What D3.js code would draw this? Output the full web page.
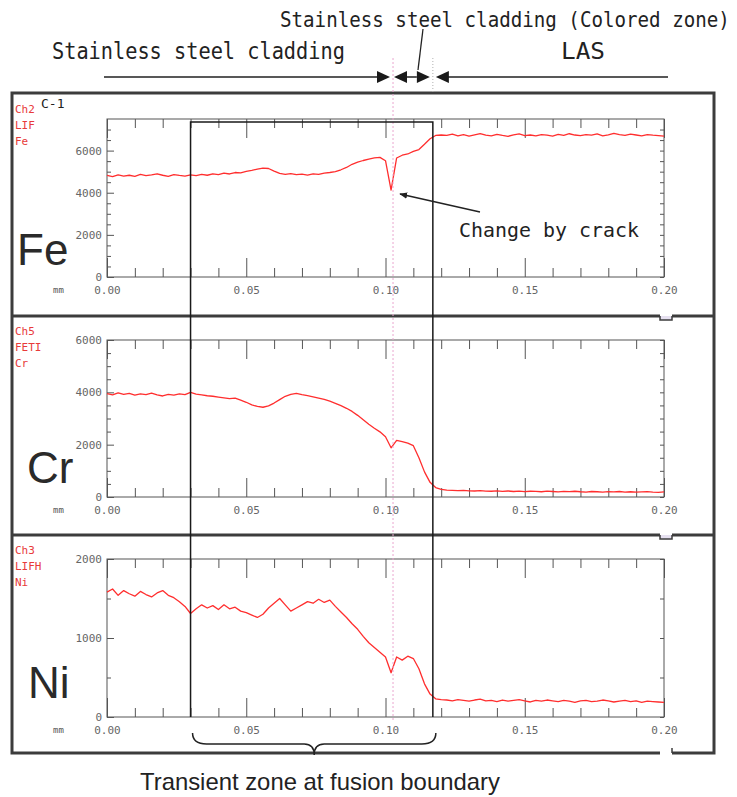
<!DOCTYPE html>
<html>
<head>
<meta charset="utf-8">
<script src="https://cdn.jsdelivr.net/npm/d3@7"></script>
<style>
body { margin: 0; background: #fff; }
.tick text { font-family: "DejaVu Sans Mono", monospace; font-size: 11px; fill: #666; }
.tick line { stroke: #555; }
</style>
</head>
<body>
<div id="chart"></div>
<script>
// sampling step along the scan (mm)
var step = 0.002;

var feValues = [
	4820, 4760, 4850, 4790, 4830, 4780, 4870, 4810, 4850, 4900,
	4830, 4780, 4860, 4820, 4790, 4850, 4810, 4870, 4830, 4900,
	4860, 4930, 4890, 4960, 4940, 5010, 5060, 5120, 5170, 5150,
	5030, 4920, 4870, 4910, 4860, 4880, 4840, 4900, 4870, 4930,
	4960, 5000, 5090, 5200, 5350, 5450, 5530, 5600, 5650, 5680,
	5520, 4120, 5650, 5780, 5840, 5960, 6050, 6300, 6560, 6720,
	6740, 6720, 6780, 6700, 6760, 6690, 6750, 6810, 6730, 6700,
	6770, 6720, 6680, 6750, 6790, 6710, 6740, 6700, 6760, 6730,
	6690, 6770, 6720, 6800, 6740, 6710, 6760, 6730, 6790, 6700,
	6750, 6820, 6760, 6720, 6780, 6740, 6700, 6760, 6730, 6710,
	6690
];

var crValues = [
	3950, 3900, 3980, 3920, 3960, 3890, 3940, 3910, 3970, 3900,
	3860, 3920, 3890, 3940, 3910, 4000, 3930, 3900, 3870, 3850,
	3820, 3790, 3760, 3780, 3700, 3620, 3520, 3460, 3430, 3480,
	3590, 3720, 3850, 3920, 3960, 3910, 3870, 3830, 3780, 3730,
	3660, 3580, 3490, 3390, 3270, 3120, 2950, 2780, 2630, 2490,
	2300, 1880, 2160, 2120, 2060, 1960, 1500, 960, 560, 360,
	290, 260, 250, 240, 255, 235, 230, 245, 225, 220,
	235, 215, 230, 210, 225, 205, 220, 215, 200, 225,
	210, 195, 215, 205, 220, 200, 190, 210, 200, 185,
	205, 195, 210, 190, 200, 185, 195, 205, 190, 180,
	195
];

var niValues = [
	1580, 1620, 1540, 1600, 1560, 1530, 1590, 1550, 1520, 1570,
	1600, 1540, 1510, 1460, 1400, 1310, 1370, 1420, 1380, 1410,
	1360, 1420, 1370, 1390, 1340, 1320, 1290, 1260, 1300, 1380,
	1440, 1500, 1420, 1340, 1380, 1420, 1460, 1440, 1490, 1450,
	1480, 1400, 1330, 1260, 1180, 1110, 1020, 940, 880, 820,
	760, 560, 760, 720, 770, 740, 610, 420, 290, 230,
	220, 215, 205, 220, 210, 200, 215, 225, 205, 210,
	195, 215, 200, 210, 220, 205, 190, 210, 200, 215,
	205, 195, 210, 200, 185, 205, 210, 195, 200, 215,
	205, 190, 200, 210, 195, 205, 185, 200, 195, 190,
	185
];

var elements = ["Fe", "Cr", "Ni"];
var channelLabels = [["Ch2", "LIF", "Fe"], ["Ch5", "FETI", "Cr"], ["Ch3", "LIFH", "Ni"]];
var yMaxValues = [7500, 6000, 2000];
var yMajorTicks = [[0, 2000, 4000, 6000], [0, 2000, 4000, 6000], [0, 1000, 2000]];
var yMinorTicks = [
	[500, 1000, 1500, 2500, 3000, 3500, 4500, 5000, 5500, 6500, 7000],
	[500, 1000, 1500, 2500, 3000, 3500, 4500, 5000, 5500],
	[500, 1500]
];
var xMajorTicks = [0, 0.05, 0.10, 0.15, 0.20];
var xMinorTicks = [0.01, 0.02, 0.03, 0.04, 0.06, 0.07, 0.08, 0.09, 0.11, 0.12, 0.13, 0.14, 0.16, 0.17, 0.18, 0.19];

// zone boundaries (mm)
var zoneStart = 0.030;
var crackPos = 0.1027;
var fusionLine = 0.117;

var seriesValues = [feValues, crValues, niValues];

// layout
var plotTops = [119, 340, 559];
var plotBottoms = [277, 497, 717];
var labelBaselines = [265, 483, 698];
var labelX = [17, 27, 28];
var panelTops = [93, 316, 535];
var panelBottom = 753;

var svg = d3.
select("#chart").
append("svg").
attr("width", 737).
attr("height", 797);

svg.append("rect").attr("width", 737).attr("height", 797).attr("fill", "#fff");

var xScale = d3.scaleLinear().domain([0, 0.2]).range([107, 664]);

var mono = "'DejaVu Sans Mono', monospace";

// outer frame of the three panels
svg.
append("rect").
attr("x", 12).
attr("y", panelTops[0]).
attr("width", 702).
attr("height", panelBottom - panelTops[0]).
attr("fill", "none").
attr("stroke", "#3c3c3c").
attr("stroke-width", 3);

[panelTops[1], panelTops[2]].forEach(function (py) {
	svg.append("line").
	attr("x1", 12).attr("x2", 714).attr("y1", py).attr("y2", py).
	attr("stroke", "#3c3c3c").attr("stroke-width", 3);
	svg.append("rect").attr("x", 660).attr("y", py - 3).attr("width", 12).attr("height", 6).attr("fill", "#fff");
	svg.append("path").
	attr("d", "M660," + py + "V" + (py + 4) + "H672V" + py).
	attr("fill", "#e6e0f0").
	attr("stroke", "#3c3c3c").
	attr("stroke-width", 1.5);
});
svg.append("rect").attr("x", 660).attr("y", panelBottom - 3).attr("width", 12).attr("height", 6).attr("fill", "#fff");
svg.append("line").attr("x1", 672).attr("x2", 672).attr("y1", panelBottom - 5).attr("y2", panelBottom).
attr("stroke", "#3c3c3c").attr("stroke-width", 1.5);

function drawPanel(k) {
	var top = plotTops[k];
	var bottom = plotBottoms[k];
	var yScale = d3.scaleLinear().domain([0, yMaxValues[k]]).range([bottom, top]);
	var g = svg.append("g");

	g.append("rect").
	attr("x", xScale(0)).
	attr("y", top).
	attr("width", xScale(0.2) - xScale(0)).
	attr("height", bottom - top).
	attr("fill", "none").
	attr("stroke", "#555").
	attr("stroke-width", 1);

	function noDomain(sel) {sel.select(".domain").remove();}

	g.append("g").
	attr("transform", "translate(0," + bottom + ")").
	call(d3.axisBottom(xScale).tickValues(xMajorTicks).tickSizeInner(-19).tickSizeOuter(0).tickPadding(9).tickFormat(d3.format(".2f"))).
	call(noDomain);
	g.append("g").
	attr("transform", "translate(0," + bottom + ")").
	call(d3.axisBottom(xScale).tickValues(xMinorTicks).tickSizeInner(-9).tickSizeOuter(0).tickFormat("")).
	call(noDomain);
	g.append("g").
	attr("transform", "translate(0," + top + ")").
	call(d3.axisTop(xScale).tickValues(xMajorTicks).tickSizeInner(-19).tickSizeOuter(0).tickFormat("")).
	call(noDomain);
	g.append("g").
	attr("transform", "translate(0," + top + ")").
	call(d3.axisTop(xScale).tickValues(xMinorTicks).tickSizeInner(-9).tickSizeOuter(0).tickFormat("")).
	call(noDomain);

	g.append("g").
	attr("transform", "translate(" + xScale(0) + ",0)").
	call(d3.axisLeft(yScale).tickValues(yMajorTicks[k]).tickSizeInner(-7).tickSizeOuter(0).tickPadding(5).tickFormat(d3.format("d"))).
	call(noDomain);
	g.append("g").
	attr("transform", "translate(" + xScale(0) + ",0)").
	call(d3.axisLeft(yScale).tickValues(yMinorTicks[k]).tickSizeInner(-4).tickSizeOuter(0).tickFormat("")).
	call(noDomain);
	g.append("g").
	attr("transform", "translate(" + xScale(0.2) + ",0)").
	call(d3.axisRight(yScale).tickValues(yMajorTicks[k].concat(yMinorTicks[k])).tickSizeInner(-4).tickSizeOuter(0).tickFormat("")).
	call(noDomain);

	g.append("text").
	text("mm").
	attr("x", 53).
	attr("y", bottom + 16).
	attr("font-family", mono).
	attr("font-size", 9).
	attr("fill", "#555");

	var line = d3.line().
	x(function (d, i) {return xScale(i * step);}).
	y(function (d) {return yScale(d);});

	g.append("path").
	datum(seriesValues[k]).
	attr("d", line).
	attr("fill", "none").
	attr("stroke", "#ff2e2e").
	attr("stroke-width", 1.3).
	attr("stroke-linejoin", "round");

	channelLabels[k].forEach(function (t, j) {
		g.append("text").
		text(t).
		attr("x", 15).
		attr("y", panelTops[k] + 20 + j * 16 - (k === 0 ? 0 : 1)).
		attr("font-family", mono).
		attr("font-size", 11).
		attr("fill", "#e83a3a");
	});

	g.append("text").
	text(elements[k]).
	attr("x", labelX[k]).
	attr("y", labelBaselines[k]).
	attr("font-family", "'Liberation Sans', Arial, sans-serif").
	attr("font-size", 44).
	attr("fill", "#2a2a2a");
}

elements.forEach(function (e, k) {drawPanel(k);});

svg.append("text").
text("C-1").
attr("x", 41).
attr("y", 108).
attr("font-family", mono).
attr("font-size", 13).
attr("fill", "#222");

// crack position (pink dotted) and boundary guides
svg.append("line").
attr("x1", xScale(crackPos)).attr("x2", xScale(crackPos)).
attr("y1", 58).attr("y2", 722).
attr("stroke", "#eaa6cf").attr("stroke-width", 1).attr("stroke-dasharray", "2,2");
svg.append("line").
attr("x1", xScale(fusionLine)).attr("x2", xScale(fusionLine)).
attr("y1", 58).attr("y2", 92).
attr("stroke", "#b0b0b0").attr("stroke-width", 1).attr("stroke-dasharray", "1,2");

// transient zone box
svg.append("path").
attr("d", "M" + xScale(zoneStart) + "," + plotBottoms[2] + "V" + (plotTops[0] + 3) +
"H" + xScale(fusionLine) + "V" + plotBottoms[2]).
attr("fill", "none").
attr("stroke", "#1a1a1a").
attr("stroke-width", 1.5);

// top region arrows
var arrowY = 77;
var cX = xScale(crackPos);
var bX = xScale(fusionLine);
function tri(tip, dir) {
	var base = tip - dir * 13;
	return "M" + tip + "," + arrowY + "L" + base + "," + (arrowY - 6) + "L" + base + "," + (arrowY + 6) + "Z";
}
svg.append("path").
attr("d", "M104," + arrowY + "H" + (cX - 16) + "M" + (cX + 14) + "," + arrowY + "H" + (bX - 16) +
"M" + (bX + 15) + "," + arrowY + "H668").
attr("stroke", "#222").
attr("stroke-width", 1.5);
[tri(cX - 3, 1), tri(cX + 1, -1), tri(bX - 3, 1), tri(bX + 3, -1)].forEach(function (d) {
	svg.append("path").attr("d", d).attr("fill", "#1a1a1a");
});
svg.append("line").
attr("x1", 423).attr("y1", 29).attr("x2", 418).attr("y2", 70).
attr("stroke", "#222").attr("stroke-width", 1.3);

// text squeezed horizontally to the width it has in the picture
function label(t, x, y, size, len, family) {
	var el = svg.append("text").
	text(t).
	attr("font-family", family || mono).
	attr("font-size", size).
	attr("fill", "#222");
	var w = el.node().getComputedTextLength();
	el.attr("transform", "translate(" + x + "," + y + ") scale(" + (len / w) + ",1)");
}

label("Stainless steel cladding (Colored zone)", 280, 27, 22, 450);
label("Stainless steel cladding", 52, 59, 23, 293);
label("LAS", 561, 59, 23, 44);
label("Change by crack", 459, 237, 20, 180);
label("Transient zone at fusion boundary", 140, 790, 24, 360, "'Liberation Sans', Arial, sans-serif");

// crack arrow
svg.append("defs").
append("marker").
attr("id", "head").
attr("viewBox", "0 0 10 10").
attr("refX", 9).
attr("refY", 5).
attr("markerWidth", 8).
attr("markerHeight", 8).
attr("markerUnits", "userSpaceOnUse").
attr("orient", "auto").
append("path").
attr("d", "M0,1L10,5L0,9Z").
attr("fill", "#222");
svg.append("line").
attr("x1", 480).attr("y1", 212).attr("x2", 400).attr("y2", 194).
attr("stroke", "#222").attr("stroke-width", 1.4).
attr("marker-end", "url(#head)");

// brace under the transient zone
var bl = xScale(zoneStart) + 2;
var br = bX + 3;
var bm = (bl + br) / 2;
svg.append("path").
attr("d", "M" + bl + ",733 Q" + bl + ",744 " + (bl + 14) + ",744 H" + (bm - 10) +
" Q" + bm + ",744 " + bm + ",755 Q" + bm + ",744 " + (bm + 10) + ",744 H" + (br - 14) +
" Q" + br + ",744 " + br + ",733").
attr("fill", "none").
attr("stroke", "#222").
attr("stroke-width", 1.5);
</script>
</body>
</html>
